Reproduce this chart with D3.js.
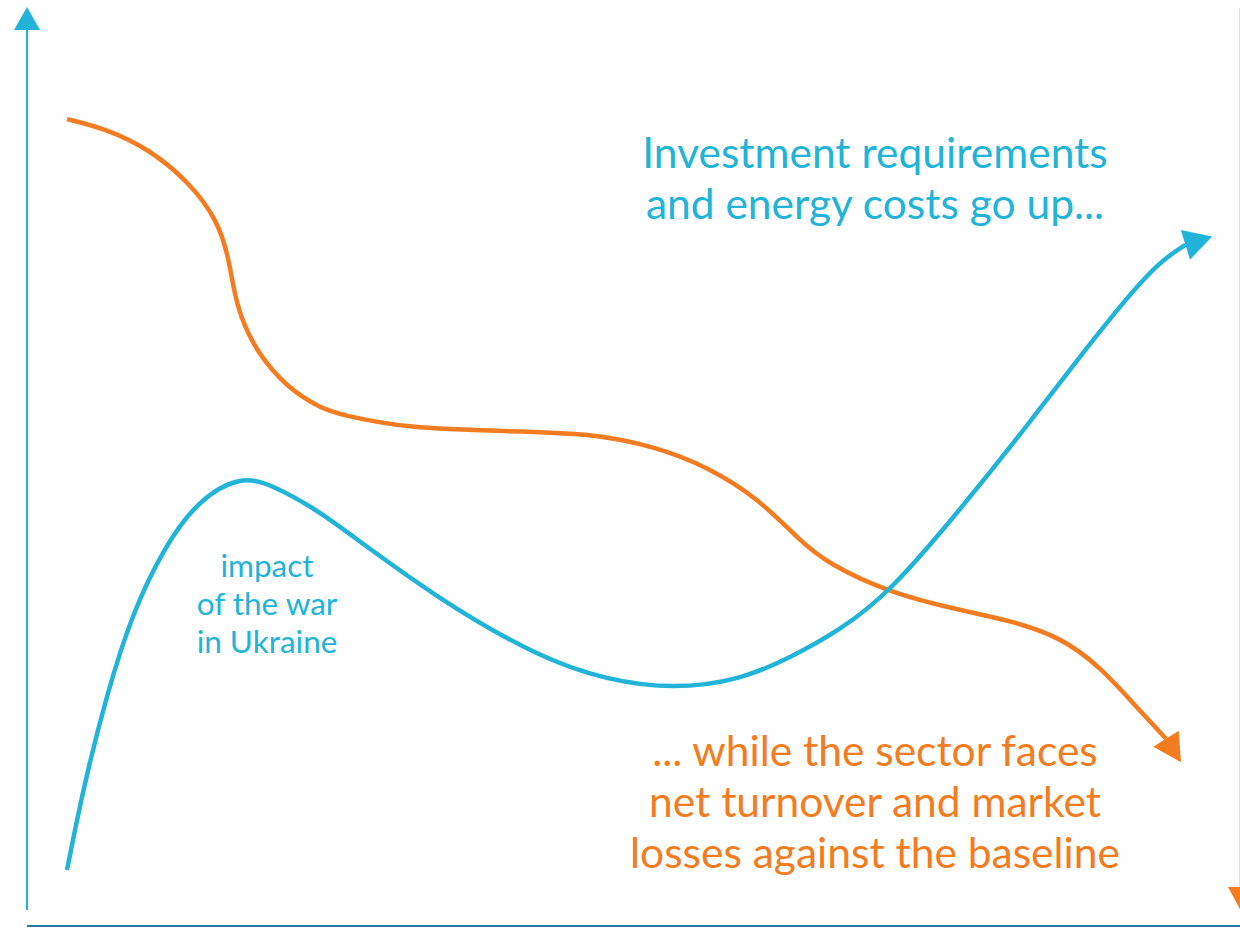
<!DOCTYPE html>
<meta charset="utf-8">
<head>
    <title>Investment requirements vs. sector losses</title>
</head>

<style>
    body { margin: 0; background: #ffffff; }
    .curve { fill: none; stroke-width: 4.5px; stroke-linecap: butt; }
    .label { font-family: Lato, "Open Sans", sans-serif; text-anchor: middle; }
</style>

<script src="https://d3js.org/d3.v7.min.js"></script>

<div id="my_viz"></div>

<script>
    // curve points, x = time (0-100), y = level (0-100); last point is the arrow tip
    var investX = [3.3, 4.6, 6.6, 8.7, 11.2, 14.0, 17.6, 20.3, 23.9, 25.8, 34.0, 42.3, 47.8, 53.3, 58.8, 62.9, 67.0, 71.1, 76.9, 82.4, 86.6, 90.7, 93.4, 95.5, 97.7];
    var investY = [6.1, 14.8, 25.4, 34.1, 41.0, 46.3, 49.1, 48.0, 45.3, 43.5, 35.5, 29.2, 26.8, 25.8, 26.8, 29.2, 32.2, 36.3, 45.3, 54.4, 61.7, 68.5, 72.4, 74.2, 75.1];

    var turnoverX = [3.3, 6.6, 10.1, 13.4, 15.7, 16.6, 17.0, 17.6, 19.0, 21.4, 24.2, 25.8, 31.3, 39.6, 46.4, 51.9, 56.1, 60.2, 63.7, 66.0, 71.1, 76.9, 81.0, 85.2, 88.5, 91.3, 93.9, 95.1];
    var turnoverY = [87.9, 86.8, 84.6, 81.0, 76.9, 72.9, 69.6, 66.3, 62.4, 58.7, 56.4, 55.7, 54.2, 53.9, 53.7, 52.2, 50.0, 46.7, 42.0, 39.5, 36.3, 34.4, 33.3, 31.5, 28.2, 24.1, 20.4, 17.9];

    var investText = ["Investment requirements", "and energy costs go up..."];
    var turnoverText = ["... while the sector faces", "net turnover and market", "losses against the baseline"];
    var warText = ["impact", "of the war", "in Ukraine"];

    var blue = "#22b3d9", orange = "#f47c20", axisBlue = "#1c7aa8";

    var width = 1240, height = 927;

    var x = d3.scaleLinear().domain([0, 100]).range([27, 1240]);
    var y = d3.scaleLinear().domain([0, 100]).range([926, 8]);

    var svg = d3.select("#my_viz")
        .append("svg")
        .attr("width", width)
        .attr("height", height);

    // vertical axis with arrow
    svg.append("line")
        .attr("x1", x(0)).attr("x2", x(0))
        .attr("y1", 910).attr("y2", 28)
        .attr("stroke", blue).attr("stroke-width", 2);
    svg.append("path")
        .attr("d", "M" + x(0) + ",7 L" + (x(0) + 13) + ",30 L" + (x(0) - 13) + ",30 Z")
        .attr("fill", blue);

    // horizontal axis
    svg.append("line")
        .attr("x1", x(0)).attr("x2", width)
        .attr("y1", 926).attr("y2", 926)
        .attr("stroke", axisBlue).attr("stroke-width", 2);

    // faint arrow on the right edge
    svg.append("line")
        .attr("x1", 1240).attr("x2", 1240)
        .attr("y1", 8).attr("y2", 888)
        .attr("stroke", orange).attr("stroke-opacity", 0.3).attr("stroke-width", 2);
    svg.append("path")
        .attr("d", "M1228,887 L1254,887 L1241,911 Z")
        .attr("fill", orange);

    var line = d3.line()
        .x(function (d) { return x(d[0]); })
        .y(function (d) { return y(d[1]); })
        .curve(d3.curveBasis);

    function drawArrowCurve(xs, ys, color, len, half) {
        var pts = xs.map(function (v, i) { return [v, ys[i]]; });
        var tip = pts[pts.length - 1];
        var body = pts.slice(0, -1);
        var base = body[body.length - 1];

        svg.append("path")
            .datum(body)
            .attr("class", "curve")
            .attr("stroke", color)
            .attr("d", line);

        // arrow head from the base point towards the tip
        var bx = x(base[0]), by = y(base[1]);
        var tx = x(tip[0]), ty = y(tip[1]);
        var a = Math.atan2(ty - by, tx - bx);
        var hx = bx + Math.cos(a) * len, hy = by + Math.sin(a) * len;
        var px = -Math.sin(a) * half, py = Math.cos(a) * half;
        svg.append("path")
            .attr("d", "M" + hx + "," + hy +
                " L" + (bx + px) + "," + (by + py) +
                " L" + (bx - px) + "," + (by - py) + " Z")
            .attr("fill", color);
    }

    drawArrowCurve(turnoverX, turnoverY, orange, 28, 15);
    drawArrowCurve(investX, investY, blue, 28, 15.5);

    // text blocks
    function textBlock(lines, cx, y0, step, size, color) {
        svg.append("g")
            .selectAll("text")
            .data(lines)
            .enter()
            .append("text")
            .attr("class", "label")
            .attr("x", cx)
            .attr("y", function (d, i) { return y0 + i * step; })
            .attr("font-size", size + "px")
            .attr("fill", color)
            .text(function (d) { return d; });
    }

    textBlock(investText, 875, 168, 51, 42.5, blue);
    textBlock(turnoverText, 875, 766, 51, 42.5, orange);
    textBlock(warText, 267, 577, 38, 31.5, blue);

</script>
